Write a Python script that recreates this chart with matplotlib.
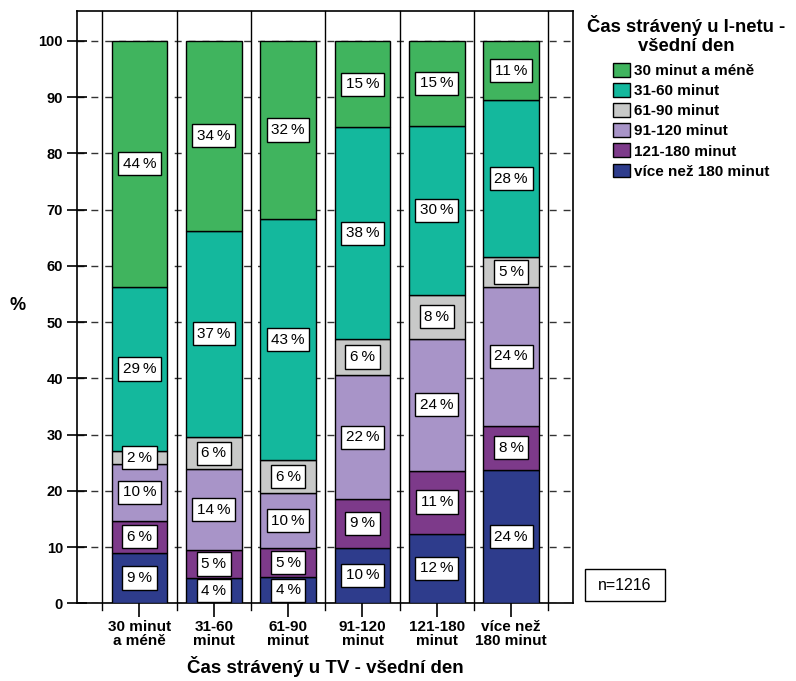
import numpy as np
import matplotlib.pyplot as plt
from matplotlib.patches import Rectangle, Patch

plt.rcParams['font.family'] = ['Liberation Sans', 'DejaVu Sans']

categories = ['30 minut\na méně', '31-60\nminut', '61-90\nminut',
              '91-120\nminut', '121-180\nminut', 'více než\n180 minut']

# segments from bottom to top
series_names = ['více než 180 minut', '121-180 minut', '91-120 minut',
                '61-90 minut', '31-60 minut', '30 minut a méně']
vice180 = [9.0, 4.5, 4.6, 9.9, 12.4, 23.7]
m121_180 = [5.7, 5.0, 5.2, 8.6, 11.2, 7.9]
m91_120 = [10.1, 14.3, 9.8, 22.1, 23.4, 24.6]
m61_90 = [2.2, 5.8, 5.8, 6.4, 7.9, 5.4]
m31_60 = [29.3, 36.6, 42.9, 37.6, 30.0, 27.8]
m30 = [43.7, 33.8, 31.7, 15.4, 15.1, 10.6]
labels = [
    [9, 4, 4, 10, 12, 24],
    [6, 5, 5, 9, 11, 8],
    [10, 14, 10, 22, 24, 24],
    [2, 6, 6, 6, 8, 5],
    [29, 37, 43, 38, 30, 28],
    [44, 34, 32, 15, 15, 11],
]
colors = ['#2e3c8c', '#7d3a8a', '#a894c8', '#c8c9c8', '#14b89d', '#40b45e']

fig = plt.figure(figsize=(7.96, 6.81), dpi=100)
ax = fig.add_axes([0.0967, 0.1141, 0.623, 0.8697])

x = np.arange(len(categories))
bottom = np.zeros(len(categories))
handles = []
for vals, lab, col, name in zip([vice180, m121_180, m91_120, m61_90, m31_60, m30],
                                labels, colors, series_names):
    vals = np.array(vals)
    ax.bar(x, vals, 0.75, bottom=bottom, color=col, edgecolor='black',
           linewidth=1, zorder=3)
    for xi, b, v, l in zip(x, bottom, vals, lab):
        ax.text(xi, b + v / 2, f'{l}\u2009%', ha='center', va='center',
                fontsize=11, zorder=5,
                bbox=dict(boxstyle='square,pad=0.3', fc='white', ec='black', lw=1))
    bottom += vals
    handles.append(Patch(facecolor=col, edgecolor='black', label=name))

ax.set_xlim(-0.84, 5.83)
ax.set_ylim(0, 105.3)
ax.set_yticks(range(0, 101, 10))
ax.set_xticks(x)
ax.set_xticklabels(categories, fontsize=11, fontweight='bold', linespacing=1.0)
for t in ax.get_yticklabels():
    t.set_fontweight('bold')
    t.set_fontsize(10.5)
ax.tick_params(axis='y', direction='inout', length=14, width=1.2, pad=3)
ax.tick_params(axis='x', direction='out', length=10, width=1.2, pad=2)
ax.yaxis.grid(True, linestyle=(0, (5, 5)), color='#333333', linewidth=1, zorder=1)
ax.set_axisbelow(True)

# category separators
for s in np.arange(-0.5, 6, 1):
    ax.plot([s, s], [-1.2, 105.3], color='black', linewidth=1, zorder=2, clip_on=False)

for sp in ax.spines.values():
    sp.set_linewidth(1.2)

ax.set_ylabel('%', fontsize=13, fontweight='bold', rotation=0, va='center', ha='center')
ax.yaxis.set_label_coords(-0.119, 0.503)
ax.set_xlabel('Čas strávený u TV - všední den', fontsize=13.5, fontweight='bold', labelpad=6)

# legend title placed separately
fig.text(686 / 796, 1 - 35 / 681, 'Čas strávený u I-netu -\nvšední den',
         ha='center', va='center', fontsize=13.3, fontweight='bold',
         multialignment='center', linespacing=1.12)
leg = fig.legend(handles=handles[::-1], loc='upper left',
                 bbox_to_anchor=(613 / 796, 1 - 63 / 681), frameon=False,
                 prop={'weight': 'bold', 'size': 11},
                 borderaxespad=0, borderpad=0,
                 handlelength=1.1, handleheight=1.0, handletextpad=0.3,
                 labelspacing=0.33)

# n box
fig.add_artist(Rectangle((585 / 796, 1 - 601 / 681), 80 / 796, 32 / 681,
                         transform=fig.transFigure, fc='white', ec='black', lw=1))
fig.text(625 / 796, 1 - 585 / 681, 'n=1216', ha='center', va='center', fontsize=11.5)

fig.savefig('out.png', dpi=100)
